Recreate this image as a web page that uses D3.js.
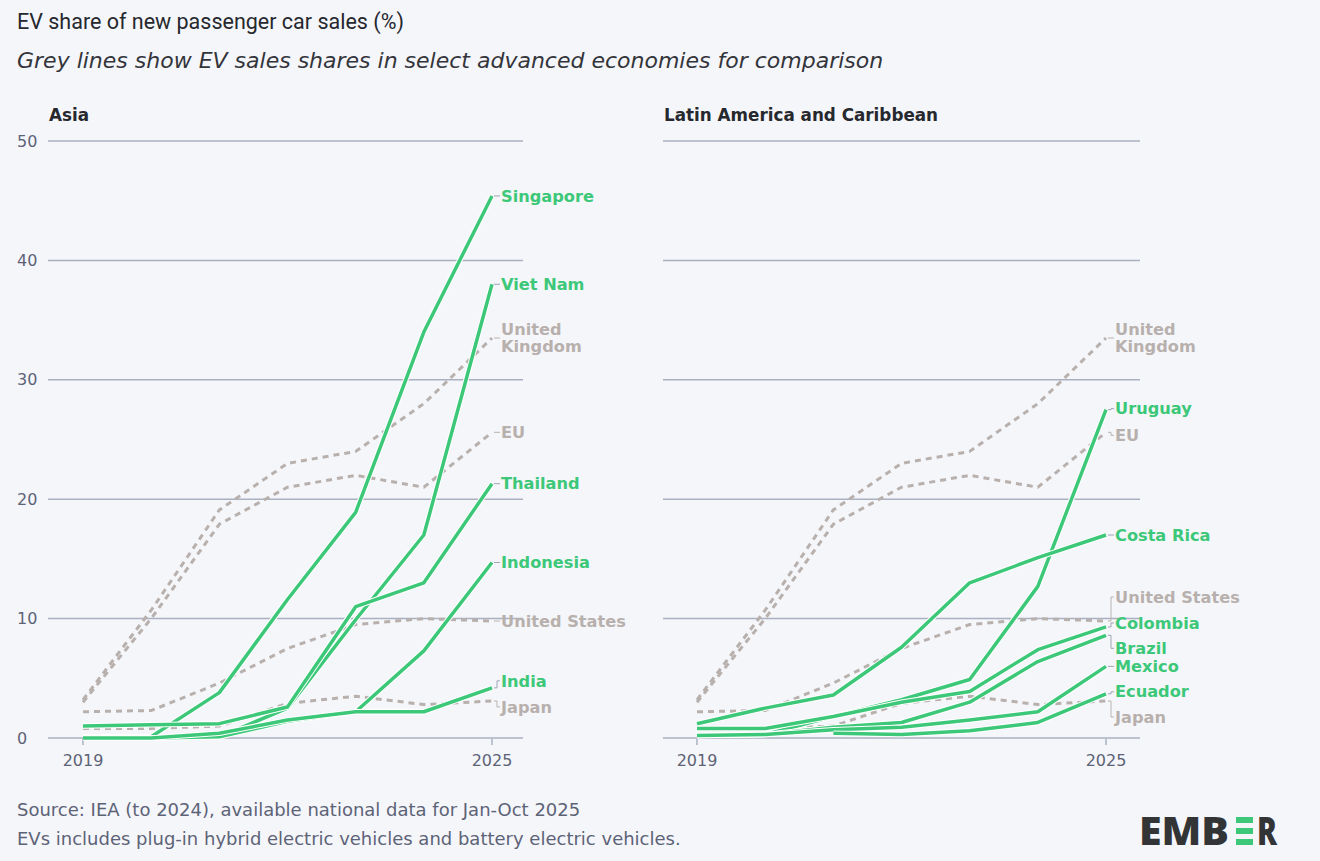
<!DOCTYPE html>
<html>
<head>
<meta charset="utf-8">
<script src="https://cdn.jsdelivr.net/npm/d3@7"></script>
<style>
  body { margin: 0; background: #f5f6fa; }
  svg { display: block; font-family: "DejaVu Sans", sans-serif; }
</style>
</head>
<body>
<div id="chart"></div>
<script>
// EV share of new passenger car sales, small multiples (Asia / LatAm)

const years = [2019, 2020, 2021, 2022, 2023, 2024, 2025];
const yTicks = [0, 10, 20, 30, 40, 50];
const xTickYears = [2019, 2025];

// grey comparison lines (same in both panels)
const unitedKingdom = [3.2, 10.7, 19.1, 23.0, 24.0, 28.0, 33.5];
const eu = [3.0, 10.0, 17.9, 21.0, 22.0, 21.0, 25.6];
const unitedStates = [2.2, 2.3, 4.6, 7.5, 9.5, 10.0, 9.8];
const japan = [0.8, 0.8, 1.0, 2.9, 3.5, 2.8, 3.1];

// Asia
const singapore = [0.1, 0.1, 3.8, 11.6, 18.9, 34.0, 45.4];
const vietNam = [0.0, 0.0, 0.1, 2.5, 9.9, 17.0, 38.0];
const thailand = [1.0, 1.1, 1.2, 2.6, 11.0, 13.0, 21.3];
const indonesia = [0.0, 0.0, 0.1, 1.4, 2.2, 7.3, 14.7];
const india = [0.0, 0.0, 0.4, 1.5, 2.2, 2.2, 4.2];

// Latin America and Caribbean
const uruguay = [0.2, 0.3, 1.8, 3.2, 4.9, 12.7, 27.5];
const costaRica = [1.2, 2.5, 3.6, 7.6, 13.0, 15.1, 17.0];
const colombia = [0.8, 0.8, 1.8, 3.0, 3.9, 7.4, 9.3];
const brazil = [0.2, 0.3, 0.9, 1.3, 3.0, 6.4, 8.6];
const mexico = [0.2, 0.3, 0.7, 0.9, 1.5, 2.2, 6.0];
const ecuador = [null, null, 0.4, 0.3, 0.6, 1.3, 3.7];

const greyLines = [
  { name: ["United", "Kingdom"], values: unitedKingdom },
  { name: ["EU"], values: eu },
  { name: ["United States"], values: unitedStates },
  { name: ["Japan"], values: japan }
];

const panels = [
  {
    title: "Asia",
    range: [83, 492],
    grid: [48, 523],
    yAxis: true,
    lines: [
      { name: "Singapore", values: singapore },
      { name: "Viet Nam", values: vietNam },
      { name: "Thailand", values: thailand },
      { name: "Indonesia", values: indonesia },
      { name: "India", values: india }
    ],
    // label nudges in px, to keep labels apart
    nudge: { "India": -7, "Japan": 6 }
  },
  {
    title: "Latin America and Caribbean",
    range: [697, 1106],
    grid: [663, 1140],
    yAxis: false,
    lines: [
      { name: "Uruguay", values: uruguay },
      { name: "Costa Rica", values: costaRica },
      { name: "Colombia", values: colombia },
      { name: "Brazil", values: brazil },
      { name: "Mexico", values: mexico },
      { name: "Ecuador", values: ecuador }
    ],
    nudge: { "Uruguay": -1, "EU": 3, "United States": -24, "Colombia": -4,
             "Brazil": 13, "Ecuador": -2, "Japan": 16 }
  }
];

const width = 1320, height = 861;
const green = "#3cc878", grey = "#b8b0ad", gridCol = "#aab0c0", textCol = "#5d6377";

const svg = d3.select("#chart").append("svg")
  .attr("width", width)
  .attr("height", height);

svg.append("rect").attr("width", width).attr("height", height).attr("fill", "#f5f6fa");

svg.append("text")
  .attr("x", 17).attr("y", 29)
  .attr("font-family", "Roboto")
  .attr("font-size", 21.5)
  .attr("fill", "#26282e")
  .text("EV share of new passenger car sales (%)");

svg.append("text")
  .attr("x", 17).attr("y", 68)
  .attr("font-size", 22)
  .attr("font-style", "italic")
  .attr("fill", "#33353b")
  .text("Grey lines show EV sales shares in select advanced economies for comparison");

const y = d3.scaleLinear().domain([0, 50]).range([738, 141]);

panels.forEach(p => {
  const x = d3.scaleLinear().domain([2019, 2025]).range(p.range);
  const g = svg.append("g");

  g.append("text")
    .attr("x", p.grid[0] + 1).attr("y", 121)
    .attr("font-size", 16.8).attr("font-weight", 700)
    .attr("fill", "#26282e")
    .text(p.title);

  g.append("g").selectAll("line")
    .data(yTicks)
    .join("line")
    .attr("x1", p.grid[0]).attr("x2", p.grid[1])
    .attr("y1", d => y(d)).attr("y2", d => y(d))
    .attr("stroke", gridCol).attr("stroke-width", 1.5);

  if (p.yAxis) {
    g.append("g").selectAll("text")
      .data(yTicks)
      .join("text")
      .attr("x", 17).attr("y", d => y(d))
      .attr("dy", "0.35em")
      .attr("font-size", 16).attr("fill", textCol)
      .text(d => d);
  }

  const xt = g.append("g").selectAll("g")
    .data(xTickYears)
    .join("g")
    .attr("transform", d => `translate(${x(d)},${y(0)})`);
  xt.append("line").attr("y1", 1).attr("y2", 7).attr("stroke", gridCol).attr("stroke-width", 1.5);
  xt.append("text")
    .attr("y", 22).attr("dy", "0.35em")
    .attr("text-anchor", "middle")
    .attr("font-size", 16).attr("fill", textCol)
    .text(d => d);

  const line = d3.line()
    .defined(d => d != null)
    .x((d, i) => x(years[i]))
    .y(d => y(d));

  // grey dashed comparison lines
  g.append("g").selectAll("path")
    .data(greyLines)
    .join("path")
    .attr("d", d => line(d.values))
    .attr("fill", "none")
    .attr("stroke", grey)
    .attr("stroke-width", 3)
    .attr("stroke-dasharray", "6,5");

  // green lines, each with a thin white halo
  const gl = g.append("g");
  p.lines.forEach(s => {
    gl.append("path")
      .attr("d", line(s.values))
      .attr("fill", "none")
      .attr("stroke", "#fff")
      .attr("stroke-width", 5.5)
      .attr("stroke-linejoin", "round");
    gl.append("path")
      .attr("d", line(s.values))
      .attr("fill", "none")
      .attr("stroke", green)
      .attr("stroke-width", 3.5)
      .attr("stroke-linejoin", "round");
  });

  // end labels
  const labels = greyLines.map(s => ({ lines: s.name, key: s.name.join(" "), v: s.values[6], col: grey }))
    .concat(p.lines.map(s => ({ lines: [s.name], key: s.name, v: s.values[6], col: green })));

  const xe = x(2025);
  labels.forEach(l => {
    const ye = y(l.v);
    const ly = ye + (p.nudge[l.key] || 0);
    g.append("path")
      .attr("d", `M${xe + 2},${ye}H${xe + 5}V${ly}H${xe + 8}`)
      .attr("fill", "none")
      .attr("stroke", l.col === green ? "#9fa5b4" : "#b9b3b0")
      .attr("stroke-width", 1);
    const t = g.append("text")
      .attr("x", xe + 9)
      .attr("y", ly)
      .attr("font-size", 16.2)
      .attr("font-weight", 700)
      .attr("fill", l.col);
    l.lines.forEach((s, i) => {
      t.append("tspan")
        .attr("x", xe + 9)
        .attr("dy", i === 0 ? `${0.35 - (l.lines.length - 1) * 0.52}em` : "1.04em")
        .text(s);
    });
  });
});

// footer
svg.append("text")
  .attr("x", 17).attr("y", 816)
  .attr("font-size", 18).attr("fill", textCol)
  .text("Source: IEA (to 2024), available national data for Jan-Oct 2025");
svg.append("text")
  .attr("x", 17).attr("y", 845)
  .attr("font-size", 18).attr("fill", textCol)
  .text("EVs includes plug-in hybrid electric vehicles and battery electric vehicles.");

// EMBER logo
const logo = svg.append("g").attr("fill", "#333436")
  .attr("font-family", "Open Sans").attr("font-size", 38).attr("font-weight", 800);
const emb = logo.append("text").attr("x", 1139).attr("y", 845)
  .attr("textLength", 90).attr("lengthAdjust", "spacingAndGlyphs").text("EMB");
const barX = 1236;
[817, 828, 839].forEach(yy => {
  logo.append("rect").attr("x", barX).attr("y", yy).attr("width", 17).attr("height", 6).attr("fill", green);
});
logo.append("text").attr("x", 1257).attr("y", 845).attr("textLength", 20).attr("lengthAdjust", "spacingAndGlyphs").text("R");
</script>
</body>
</html>
